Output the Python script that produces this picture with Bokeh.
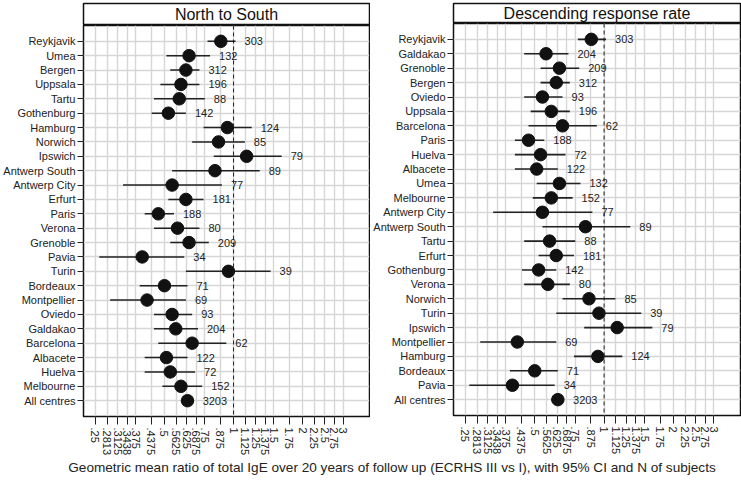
import math
from bokeh.plotting import figure
from bokeh.models import (ColumnDataSource, FactorRange, Range1d, FixedTicker,
                          CustomJSTickFormatter, Span, Div)
from bokeh.layouts import row, column
from bokeh.core.properties import value
from bokeh.embed import file_html
from bokeh.resources import INLINE

FONT = "Liberation Sans"

# ---- data ----
centres = ["Reykjavik", "Umea", "Bergen", "Uppsala", "Tartu", "Gothenburg",
           "Hamburg", "Norwich", "Ipswich", "Antwerp South", "Antwerp City",
           "Erfurt", "Paris", "Verona", "Grenoble", "Pavia", "Turin",
           "Bordeaux", "Montpellier", "Oviedo", "Galdakao", "Barcelona",
           "Albacete", "Huelva", "Melbourne", "All centres"]
ratio = [0.88, 0.64, 0.62, 0.59, 0.58, 0.52, 0.94, 0.86, 1.14, 0.83, 0.54,
         0.62, 0.47, 0.57, 0.64, 0.40, 0.95, 0.50, 0.42, 0.54, 0.56, 0.66,
         0.51, 0.53, 0.59, 0.63]
ci_low = [0.77, 0.51, 0.53, 0.48, 0.45, 0.44, 0.74, 0.66, 0.82, 0.54, 0.33,
          0.52, 0.41, 0.45, 0.53, 0.26, 0.62, 0.39, 0.29, 0.45, 0.45, 0.47,
          0.41, 0.41, 0.49, 0.59]
ci_high = [1.02, 0.79, 0.71, 0.71, 0.75, 0.62, 1.20, 1.12, 1.62, 1.30, 0.89,
           0.74, 0.55, 0.71, 0.78, 0.61, 1.45, 0.63, 0.62, 0.66, 0.70, 0.93,
           0.63, 0.68, 0.73, 0.67]
n_subjects = [303, 132, 312, 196, 88, 142, 124, 85, 79, 89, 77, 181, 188, 80,
              209, 34, 39, 71, 69, 93, 204, 62, 122, 72, 152, 3203]

order_response = ["Reykjavik", "Galdakao", "Grenoble", "Bergen", "Oviedo",
                  "Uppsala", "Barcelona", "Paris", "Huelva", "Albacete",
                  "Umea", "Melbourne", "Antwerp City", "Antwerp South",
                  "Tartu", "Erfurt", "Gothenburg", "Verona", "Norwich",
                  "Turin", "Ipswich", "Montpellier", "Hamburg", "Bordeaux",
                  "Pavia", "All centres"]

tick_values = [0.25, 0.28125, 0.3125, 0.34375, 0.375, 0.4375, 0.5, 0.5625,
               0.625, 0.6875, 0.75, 0.875, 1, 1.125, 1.25, 1.375, 1.5, 1.75,
               2, 2.25, 2.5, 2.75, 3]
tick_labels = [".25", ".2813", ".3125", ".3438", ".375", ".4375", ".5",
               ".5625", ".625", ".6875", ".75", ".875", "1", "1.125", "1.25",
               "1.375", "1.5", "1.75", "2", "2.25", "2.5", "2.75", "3"]

x_label = ("Geometric mean ratio of total IgE over 20 years of follow up "
           "(ECRHS III vs I), with 95% CI and N of subjects")


def panel(title, order, width, left_border, strip_h, main_h):
    idx = [centres.index(c) for c in order]
    src = ColumnDataSource(dict(
        y=order,
        r=[ratio[i] for i in idx],
        lo=[ci_low[i] for i in idx],
        hi=[ci_high[i] for i in idx],
        n=[str(n_subjects[i]) for i in idx],
    ))

    strip = figure(width=width, height=strip_h, x_range=(0, 1), y_range=(0, 1),
                   x_axis_location=None, y_axis_location=None,
                   toolbar_location=None, output_backend="svg",
                   min_border_left=left_border, min_border_right=1,
                   min_border_top=3, min_border_bottom=0)
    strip.grid.visible = False
    strip.outline_line_color = "#111111"
    strip.outline_line_width = 1.5
    strip.background_fill_color = "white"
    strip.text(x=[0.5], y=[0.5], text=[title], text_align="center",
               text_baseline="middle", text_font=value(FONT),
               text_font_size="16px", text_color="#111111")

    p = figure(width=width, height=main_h,
               y_range=FactorRange(factors=order[::-1], range_padding=0.6,
                                   range_padding_units="absolute"),
               x_range=Range1d(0.222, 3.91), x_axis_type="log",
               toolbar_location=None, output_backend="svg",
               min_border_left=left_border, min_border_right=1,
               min_border_top=0, min_border_bottom=0)
    p.outline_line_color = "#111111"
    p.outline_line_width = 1.5

    ticker = FixedTicker(ticks=tick_values, minor_ticks=[])
    p.xaxis.ticker = ticker
    p.xgrid.ticker = ticker
    p.xaxis.formatter = CustomJSTickFormatter(
        args=dict(tv=tick_values, tl=tick_labels),
        code="""
        for (let i = 0; i < tv.length; i++) {
            if (Math.abs(Math.log(tv[i]) - Math.log(tick)) < 1e-6) return tl[i];
        }
        return "";
        """)
    p.xaxis.major_label_orientation = -math.pi / 2
    p.xaxis.major_label_text_font = FONT
    p.xaxis.major_label_text_font_size = "11px"
    p.xaxis.major_label_text_color = "#222222"
    p.xaxis.major_tick_out = 8
    p.xaxis.major_tick_in = 0
    p.xaxis.minor_tick_line_color = None
    p.xaxis.axis_line_color = None
    p.xaxis.major_tick_line_color = "#222222"
    p.xaxis.major_label_standoff = 3

    p.yaxis.major_label_text_font = FONT
    p.yaxis.major_label_text_font_size = "11px"
    p.yaxis.major_label_text_color = "#222222"
    p.yaxis.major_tick_out = 6
    p.yaxis.major_tick_in = 0
    p.yaxis.axis_line_color = None
    p.yaxis.major_tick_line_color = "#222222"
    p.yaxis.major_label_standoff = 2

    p.grid.grid_line_color = "#d6d6d6"
    p.grid.grid_line_width = 1.4

    p.add_layout(Span(location=1, dimension="height", line_color="#222222",
                      line_width=1, line_dash="4 3"))

    p.segment(x0="lo", x1="hi", y0="y", y1="y", source=src,
              line_color="#222222", line_width=1.6)
    p.scatter(x="r", y="y", source=src, size=12.5, fill_color="#111111",
              line_color="#111111")
    p.text(x="hi", y="y", text="n", source=src, x_offset=9,
           text_align="left", text_baseline="middle", text_font=value(FONT),
           text_font_size="11px", text_color="#222222")
    return column(strip, p, spacing=0)


left = panel("North to South", centres, 370, 82, 25, 433)
right = panel("Descending response rate", order_response, 371, 83, 23, 434)

label = Div(text=x_label, width=698, height=20, margin=(0, 0, 0, 43),
            styles={"text-align": "center", "font-family": FONT,
                    "font-size": "13.6px", "color": "#222222",
                    "line-height": "20px"})

layout = column(row(left, right, spacing=0), label, spacing=0)

open("out.html", "w").write(file_html(layout, INLINE))
